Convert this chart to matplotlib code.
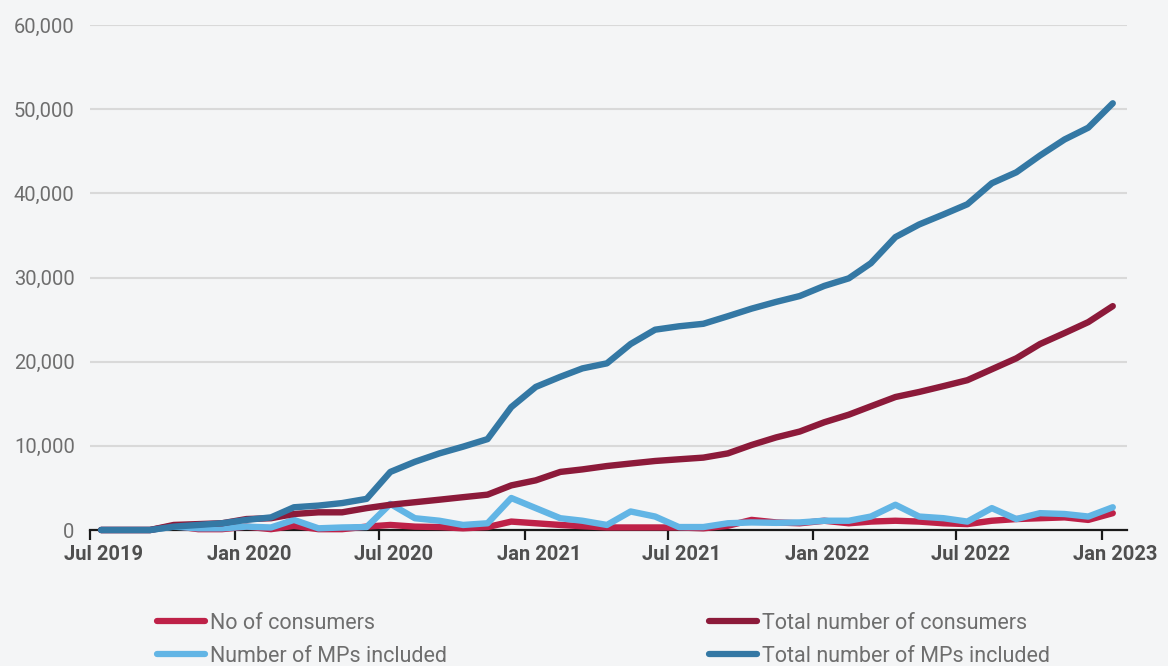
import matplotlib
matplotlib.use("Agg")
import matplotlib.pyplot as plt
import matplotlib.dates as mdates
import matplotlib.ticker as mticker
import matplotlib.transforms as mtransforms
import pandas as pd

# monthly values, Jul 2019 .. Jan 2023
months = pd.date_range("2019-07-01", "2023-01-01", freq="MS") + pd.Timedelta(days=14)

no_consumers = [0, 0, 0, 500, 100, 100, 400, 100, 500, 100, 100, 400,
                600, 400, 350, 200, 350, 1000, 800, 600, 450, 300, 300, 300,
                300, 200, 500, 1200, 900, 800, 1100, 800, 1000, 1100, 1000, 800,
                700, 1100, 1300, 1400, 1500, 1200, 2000]
total_consumers = [0, 0, 0, 600, 700, 800, 1300, 1400, 1900, 2100, 2100, 2600,
                   3000, 3300, 3600, 3900, 4200, 5300, 5900, 6900, 7200, 7600, 7900, 8200,
                   8400, 8600, 9100, 10100, 11000, 11700, 12800, 13700, 14700, 15800, 16400, 17100,
                   17800, 19100, 20400, 22100, 23400, 24700, 26600]
mps_included = [0, 0, 0, 400, 200, 200, 400, 300, 1200, 200, 300, 350,
                3100, 1400, 1100, 600, 800, 3800, 2600, 1400, 1100, 600, 2200, 1600,
                350, 350, 800, 900, 850, 900, 1100, 1100, 1600, 3000, 1600, 1400,
                1000, 2600, 1300, 2000, 1900, 1600, 2700]
total_mps = [0, 0, 0, 400, 600, 800, 1200, 1500, 2700, 2900, 3200, 3700,
             6900, 8100, 9100, 9900, 10800, 14600, 17000, 18200, 19200, 19800, 22100, 23800,
             24200, 24500, 25400, 26300, 27100, 27800, 29000, 29900, 31700, 34800, 36300, 37500,
             38700, 41200, 42500, 44500, 46400, 47800, 50700]

series = [
    ("No of consumers", no_consumers, "#be2148"),
    ("Number of MPs included", mps_included, "#62b5e5"),
    ("Total number of consumers", total_consumers, "#8c1a3a"),
    ("Total number of MPs included", total_mps, "#3478a4"),
]
draw_order = [0, 2, 1, 3]

plt.rcParams["font.family"] = ["Roboto", "DejaVu Sans"]
bg = "#f4f5f6"

fig = plt.figure(figsize=(11.68, 6.66), dpi=100, facecolor=bg)
ax = fig.add_axes([90 / 1168, 1 - 530 / 666, 1037 / 1168, 505 / 666], facecolor=bg)

lines = {}
for k in draw_order:
    name, vals, col = series[k]
    ln, = ax.plot(months, vals, color=col, lw=4.6, label=name, clip_on=False,
                  solid_capstyle="round", solid_joinstyle="round", zorder=3 + k)
    lines[k] = ln

ax.set_xlim(pd.Timestamp("2019-07-01"), pd.Timestamp("2023-02-02"))
ax.set_ylim(0, 60000)
ax.yaxis.set_major_locator(mticker.MultipleLocator(10000))
ax.yaxis.set_major_formatter(mticker.FuncFormatter(lambda v, p: f"{int(v):,}"))
ax.xaxis.set_major_locator(mdates.MonthLocator(bymonth=[1, 7]))
ax.xaxis.set_major_formatter(mdates.DateFormatter("%b %Y"))

ax.grid(axis="y", color="#d9d9d9", lw=1.5)
ax.set_axisbelow(True)
for s in ["top", "right", "left"]:
    ax.spines[s].set_visible(False)
ax.spines["bottom"].set_color("#1a1a1a")
ax.spines["bottom"].set_linewidth(1.6)
ax.spines["bottom"].set_zorder(2)

ax.tick_params(axis="y", length=0, pad=11, labelsize=14.5, labelcolor="#6e6e6e")
ax.tick_params(axis="x", length=7, width=1.6, color="#1a1a1a", pad=4,
               labelsize=14.5, labelcolor="#4f4f4f")
# labels sit over the mid-month points, a bit right of the ticks
shift = mtransforms.ScaledTranslation(14 / 100, 0, fig.dpi_scale_trans)
for t in ax.get_xticklabels():
    t.set_fontweight("bold")
    t.set_transform(t.get_transform() + shift)

leg_kw = dict(loc="upper left", frameon=False, handlelength=2.25, handletextpad=0.2,
              labelspacing=0.55, fontsize=15.5, labelcolor="#6e6e6e", borderpad=0)
leg1 = fig.legend([lines[0], lines[1]], [series[0][0], series[1][0]],
                  bbox_to_anchor=(146 / 1168, 1 - 602 / 666), **leg_kw)
leg2 = fig.legend([lines[2], lines[3]], [series[2][0], series[3][0]],
                  bbox_to_anchor=(698 / 1168, 1 - 602 / 666), **leg_kw)
for leg in (leg1, leg2):
    for h in leg.legend_handles:
        h.set_linewidth(4.5)

fig.savefig("out.png", dpi=100, facecolor=bg)
